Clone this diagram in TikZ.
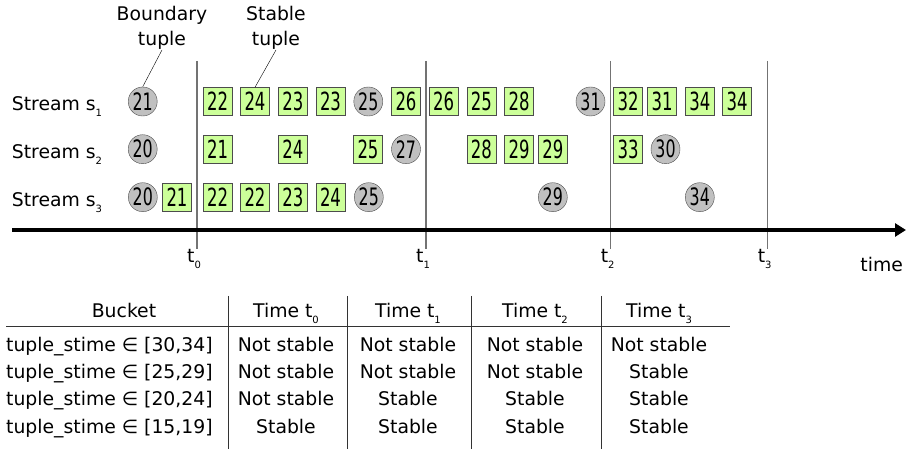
\documentclass[tikz,border=0pt]{standalone}
\usepackage{graphicx}
\usepackage{fontspec}
\setmainfont{DejaVu Sans}
\usetikzlibrary{arrows.meta}
\definecolor{stablegreen}{HTML}{CCFF99}
\definecolor{boundgray}{HTML}{C0C0C0}
\newcommand{\tsub}[1]{\raisebox{-6pt}{\fontsize{10}{10}\selectfont #1}}
\newcommand{\nar}[1]{\scalebox{0.66}[1]{#1}}

\begin{document}
\begin{tikzpicture}[x=1pt,y=-1pt,
    every node/.style={font=\fontsize{18.8}{25.5}\selectfont},
    stab/.style={draw=black!70,fill=stablegreen,minimum width=29pt,minimum height=28pt,
      inner sep=0pt,font=\fontsize{25}{25}\selectfont},
    bound/.style={circle,draw=black!70,fill=boundgray,minimum size=29pt,
      inner sep=0pt,font=\fontsize{24}{24}\selectfont},
    tline/.style={black!55,line width=1.5pt},
    cell/.style={anchor=base,inner sep=0pt}]
    \useasboundingbox (0,0) rectangle (906,449);
    % time instants
    \coordinate (tt0) at (197,61);
    \coordinate (tt1) at (426,61);
    \coordinate (tt2) at (610.7,61);
    \coordinate (tt3) at (767.7,61);
    \node[anchor=base,inner sep=1pt] (t0) at (194,263) {t\tsub{0}};
    \node[anchor=base,inner sep=1pt] (t1) at (423,263) {t\tsub{1}};
    \node[anchor=base,inner sep=1pt] (t2) at (607.7,263) {t\tsub{2}};
    \node[anchor=base,inner sep=1pt] (t3) at (764.7,263) {t\tsub{3}};
    \draw[tline] (tt0) -- (tt0 |- t0.north);
    \draw[tline] (tt1) -- (tt1 |- t1.north);
    \draw[tline] (tt2) -- (tt2 |- t2.north);
    \draw[tline] (tt3) -- (tt3 |- t3.north);
    % time axis
    \coordinate (axs) at (12,230);
    \coordinate (axe) at (906,230);
    \draw[line width=3.3pt,-{Triangle[length=11pt,width=13pt]}] (axs) -- (axe);
    \node[anchor=base] (time) at (881.7,271.7) {time};
    % stream names
    \node[anchor=base west,inner sep=0pt] (st1) at (11.7,111) {Stream s\tsub{1}};
    \node[anchor=base west,inner sep=0pt] (st2) at (11.7,158.7) {Stream s\tsub{2}};
    \node[anchor=base west,inner sep=0pt] (st3) at (11.7,206.7) {Stream s\tsub{3}};
    % stream s1
    \node[bound] (s1a) at (142.7,101.5) {\nar{21}};
    \node[stab] (s1b) at (217.7,101.5) {\nar{22}};  \node[stab] (s1c) at (255,101.5) {\nar{24}};
    \node[stab] (s1d) at (292.8,101.5) {\nar{23}};  \node[stab] (s1e) at (330.5,101.5) {\nar{23}};
    \node[bound] (s1f) at (368.3,101.5) {\nar{25}};
    \node[stab] (s1g) at (406,101.5) {\nar{26}};    \node[stab] (s1h) at (443.7,101.5) {\nar{26}};
    \node[stab] (s1i) at (481.3,101.5) {\nar{25}};  \node[stab] (s1j) at (519,101.5) {\nar{28}};
    \node[bound] (s1k) at (590.5,101.5) {\nar{31}};
    \node[stab] (s1l) at (628,101.5) {\nar{32}};    \node[stab] (s1m) at (662,101.5) {\nar{31}};
    \node[stab] (s1n) at (699.8,101.5) {\nar{34}};  \node[stab] (s1o) at (737,101.5) {\nar{34}};
    % stream s2
    \node[bound] (s2a) at (142.7,149.2) {\nar{20}};
    \node[stab] (s2b) at (217.7,149.2) {\nar{21}};  \node[stab] (s2c) at (292.8,149.2) {\nar{24}};
    \node[stab] (s2d) at (368,149.2) {\nar{25}};
    \node[bound] (s2e) at (406,149.2) {\nar{27}};
    \node[stab] (s2f) at (481.3,149.2) {\nar{28}};  \node[stab] (s2g) at (519,149.2) {\nar{29}};
    \node[stab] (s2h) at (552.8,149.2) {\nar{29}};  \node[stab] (s2i) at (628,149.2) {\nar{33}};
    \node[bound] (s2j) at (665.5,149.2) {\nar{30}};
    % stream s3
    \node[bound] (s3a) at (142.8,197.2) {\nar{20}};
    \node[stab] (s3b) at (177,197.2) {\nar{21}};    \node[stab] (s3c) at (217.7,197.2) {\nar{22}};
    \node[stab] (s3d) at (255,197.2) {\nar{22}};    \node[stab] (s3e) at (292.8,197.2) {\nar{23}};
    \node[stab] (s3f) at (330.5,197.2) {\nar{24}};
    \node[bound] (s3g) at (368.8,197.2) {\nar{25}};
    \node[bound] (s3h) at (552.8,197.2) {\nar{29}};
    \node[bound] (s3i) at (699.8,197.2) {\nar{34}};
    % legend labels
    \node[anchor=south,align=center,inner sep=0pt] (blab) at (162,50) {Boundary\\tuple};
    \node[anchor=south,align=center,inner sep=0pt] (slab) at (276,50) {Stable\\tuple};
    \draw (blab.south) -- (s1a.north);
    \draw (slab.south) -- (s1c.north);
    % table of buckets
    \draw[black!80] (6,326.7) -- (730,326.7);
    \draw[black!80] (228,296) -- (228,449) (347,296) -- (347,449)
      (471,296) -- (471,449) (601,296) -- (601,449);
    \node[cell] (hb) at (124,317.3) {Bucket};
    \node[cell] (h0) at (286,317.3) {Time t\tsub{0}};
    \node[cell] (h1) at (408,317.3) {Time t\tsub{1}};
    \node[cell] (h2) at (535,317.3) {Time t\tsub{2}};
    \node[cell] (h3) at (659,317.3) {Time t\tsub{3}};
    \node[cell,anchor=base west] (b1) at (6,352) {tuple\_stime ∈ [30,34]};
    \node[cell,anchor=base west] (b2) at (6,379) {tuple\_stime ∈ [25,29]};
    \node[cell,anchor=base west] (b3) at (6,406) {tuple\_stime ∈ [20,24]};
    \node[cell,anchor=base west] (b4) at (6,433) {tuple\_stime ∈ [15,19]};
    \node[cell] (b1t0) at (286,352) {Not stable}; \node[cell] (b1t1) at (408,352) {Not stable};
    \node[cell] (b1t2) at (535,352) {Not stable}; \node[cell] (b1t3) at (659,352) {Not stable};
    \node[cell] (b2t0) at (286,379) {Not stable}; \node[cell] (b2t1) at (408,379) {Not stable};
    \node[cell] (b2t2) at (535,379) {Not stable}; \node[cell] (b2t3) at (659,379) {Stable};
    \node[cell] (b3t0) at (286,406) {Not stable}; \node[cell] (b3t1) at (408,406) {Stable};
    \node[cell] (b3t2) at (535,406) {Stable};     \node[cell] (b3t3) at (659,406) {Stable};
    \node[cell] (b4t0) at (286,433) {Stable};     \node[cell] (b4t1) at (408,433) {Stable};
    \node[cell] (b4t2) at (535,433) {Stable};     \node[cell] (b4t3) at (659,433) {Stable};
\end{tikzpicture}
\end{document}
